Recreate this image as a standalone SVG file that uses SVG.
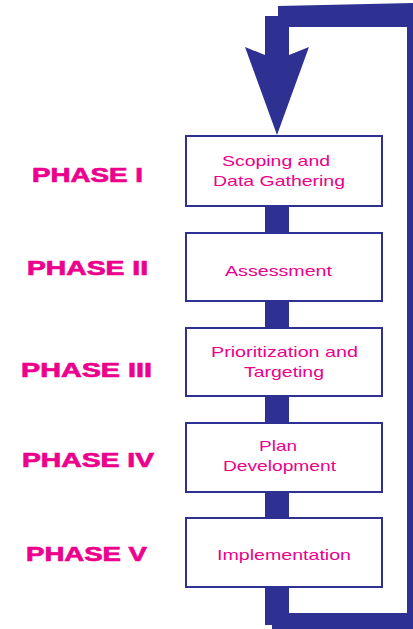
<svg xmlns="http://www.w3.org/2000/svg" width="413" height="629" viewBox="0 0 413 629">
  <style>
    .box { fill: #ffffff; stroke: #2e3192; stroke-width: 2; }
    .flow { fill: #2e3192; }
    .label { font-family: "Liberation Sans", Arial, sans-serif; font-size: 15px; fill: #ec008c; }
    .phase { font-family: "Liberation Sans", Arial, sans-serif; font-size: 21px; font-weight: bold; fill: #ec008c; stroke: #ec008c; stroke-width: 0.7; }
  </style>

  <!-- feedback loop, vertical links and arrowhead -->
  <g id="connectors">
    <path class="flow" d="M265,588 L265,625 L272,625 L272,629 L413,629 L413,3 L278,6 L278,16 L265,16 L265,56 L289,56 L289,27 L407,27 L407,613 L289,613 L289,588 Z"/>
    <polygon class="flow" points="245,47 265,55 289,55 309,47 277,135"/>
    <rect class="flow" x="265" y="206" width="24" height="27"/>
    <rect class="flow" x="265" y="301" width="24" height="27"/>
    <rect class="flow" x="265" y="396" width="24" height="27"/>
    <rect class="flow" x="265" y="492" width="24" height="26"/>
  </g>

  <g id="phase1">
    <rect class="box" x="186" y="136" width="196" height="70"/>
    <text class="label" x="222" y="166" textLength="108" lengthAdjust="spacingAndGlyphs">Scoping and</text>
    <text class="label" x="213" y="186" textLength="132" lengthAdjust="spacingAndGlyphs">Data Gathering</text>
    <text class="phase" x="32" y="182" textLength="111" lengthAdjust="spacingAndGlyphs">PHASE I</text>
  </g>

  <g id="phase2">
    <rect class="box" x="186" y="233" width="196" height="68"/>
    <text class="label" x="225" y="276" textLength="107" lengthAdjust="spacingAndGlyphs">Assessment</text>
    <text class="phase" x="27" y="275" textLength="121" lengthAdjust="spacingAndGlyphs">PHASE II</text>
  </g>

  <g id="phase3">
    <rect class="box" x="186" y="328" width="196" height="68"/>
    <text class="label" x="211" y="357" textLength="147" lengthAdjust="spacingAndGlyphs">Prioritization and</text>
    <text class="label" x="244" y="377" textLength="80" lengthAdjust="spacingAndGlyphs">Targeting</text>
    <text class="phase" x="21" y="377" textLength="131" lengthAdjust="spacingAndGlyphs">PHASE III</text>
  </g>

  <g id="phase4">
    <rect class="box" x="186" y="423" width="196" height="69"/>
    <text class="label" x="259" y="451" textLength="38" lengthAdjust="spacingAndGlyphs">Plan</text>
    <text class="label" x="223" y="471" textLength="113" lengthAdjust="spacingAndGlyphs">Development</text>
    <text class="phase" x="22" y="467" textLength="132" lengthAdjust="spacingAndGlyphs">PHASE IV</text>
  </g>

  <g id="phase5">
    <rect class="box" x="186" y="518" width="196" height="69"/>
    <text class="label" x="217" y="560" textLength="134" lengthAdjust="spacingAndGlyphs">Implementation</text>
    <text class="phase" x="26" y="561" textLength="121" lengthAdjust="spacingAndGlyphs">PHASE V</text>
  </g>
</svg>
